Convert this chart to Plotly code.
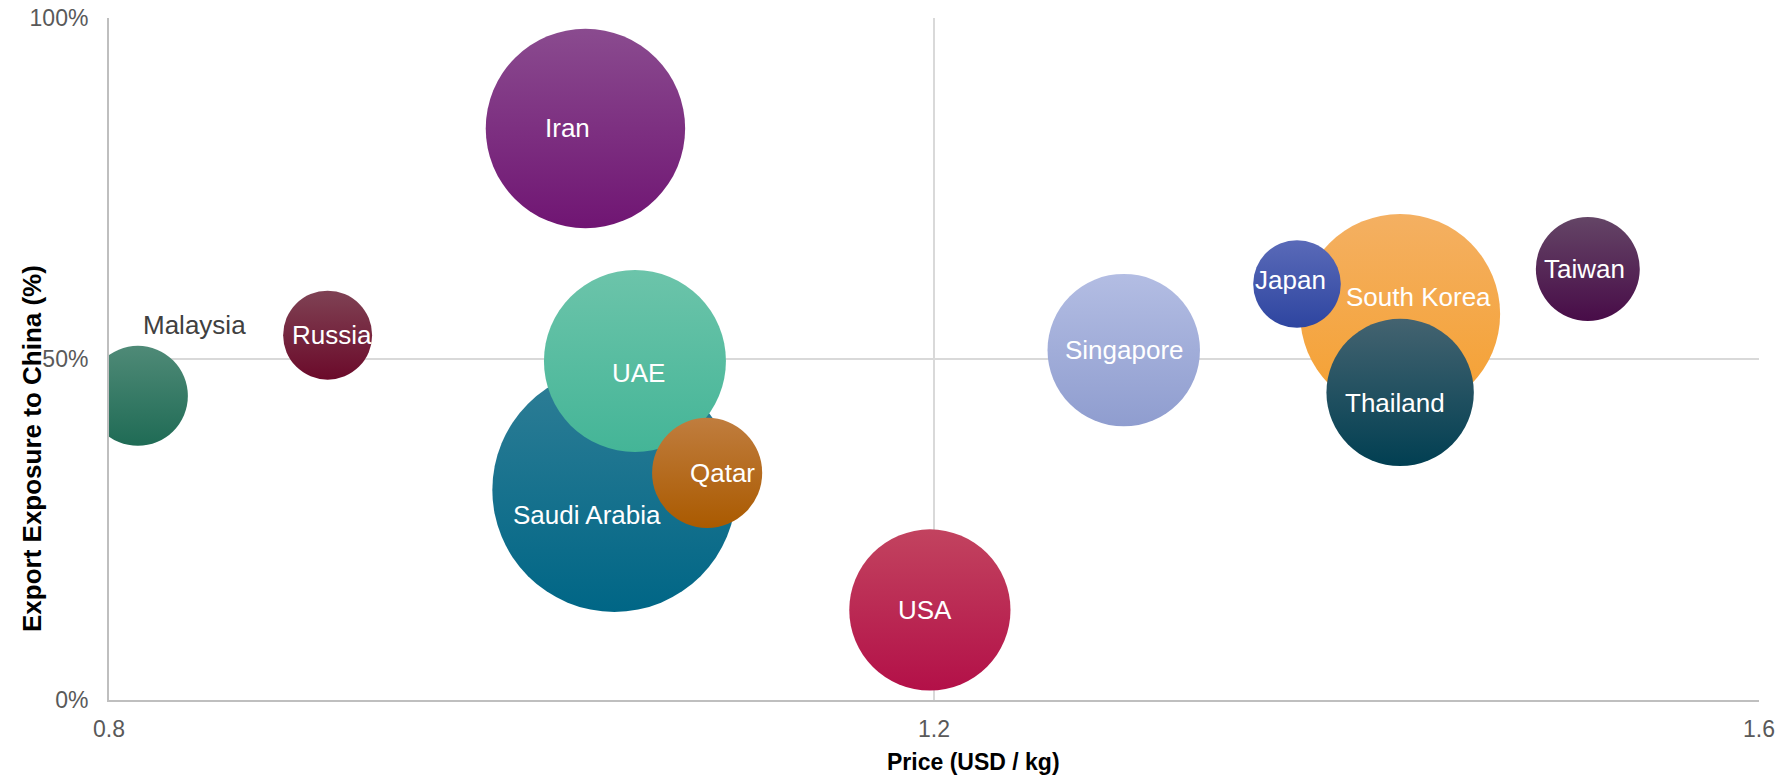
import plotly.graph_objects as go

# Bubble data, in drawing order (later points sit on top)
countries = ["Malaysia", "Russia", "Iran", "Saudi Arabia", "UAE", "Qatar", "USA",
             "Singapore", "South Korea", "Japan", "Thailand", "Taiwan"]
price_usd_kg = [0.814, 0.906, 1.031, 1.045, 1.055, 1.090, 1.198,
                1.292, 1.426, 1.376, 1.426, 1.517]
china_share = [0.446, 0.535, 0.838, 0.308, 0.497, 0.333, 0.132,
               0.513, 0.566, 0.610, 0.451, 0.632]
export_volume = [25.0, 19.8, 99.4, 148.8, 82.8, 30.3, 65.0,
                 58.1, 100.0, 19.2, 54.3, 27.0]

# top / bottom colours of each bubble's vertical gradient
top_colors = ["#4f8a77", "#7f4254", "#8a4b8f", "#2f7e96", "#6cc4aa", "#c07d3e", "#c2435f",
              "#b3bde3", "#f4b062", "#5a6ab8", "#446370", "#644566"]
bottom_colors = ["#1f6b55", "#6b0a2a", "#701573", "#006686", "#44b597", "#aa5a00", "#b31048",
                 "#8f9dcf", "#f5a030", "#2e45a0", "#013f52", "#480c48"]

# label nudges in px (xshift, yshift), label colour
label_style = {
    "Malaysia": (57, 71, "#404040"),
    "Russia": (4, 0, "white"),
    "Iran": (-18, 0, "white"),
    "Saudi Arabia": (-27, -25, "white"),
    "UAE": (4, -12, "white"),
    "Qatar": (15, 0, "white"),
    "USA": (-5, 0, "white"),
    "Singapore": (1, 0, "white"),
    "South Korea": (18, 17, "white"),
    "Japan": (-7, 4, "white"),
    "Thailand": (-5, -11, "white"),
    "Taiwan": (-3, 0, "white"),
}

FONT = "Arial, Liberation Sans, sans-serif"

fig = go.Figure()
fig.add_trace(go.Scatter(
    x=price_usd_kg, y=china_share, mode="markers",
    marker=dict(
        size=export_volume, sizemode="area", sizeref=0.005,
        color=top_colors, opacity=1,
        gradient=dict(type="vertical", color=bottom_colors),
        line=dict(width=0),
    ),
    hovertext=countries, hoverinfo="text",
    cliponaxis=True, showlegend=False,
))

for name, px, py in zip(countries, price_usd_kg, china_share):
    dx, dy, col = label_style[name]
    fig.add_annotation(
        x=px, y=py, text=name, showarrow=False,
        xshift=dx, yshift=dy, xanchor="center", yanchor="middle",
        font=dict(family=FONT, size=26, color=col),
    )

# axis titles
fig.add_annotation(
    xref="paper", yref="paper", x=0, y=0.368, xshift=-77,
    xanchor="center", yanchor="middle",
    text="<b>Export Exposure to China (%)</b>", textangle=-90, showarrow=False,
    font=dict(family=FONT, size=26, color="#000000"),
)
fig.add_annotation(
    xref="paper", yref="paper", x=0.524, y=0, yshift=-62,
    xanchor="center", yanchor="middle",
    text="<b>Price (USD / kg)</b>", showarrow=False,
    font=dict(family=FONT, size=23, color="#000000"),
)

fig.update_xaxes(
    range=[0.8, 1.6], dtick=0.4, tick0=0.8, tickformat=".1f",
    showgrid=True, gridcolor="#d9d9d9", gridwidth=1.5,
    showline=True, linecolor="#bfbfbf", linewidth=2,
    zeroline=False, ticks="", ticklabelstandoff=7, automargin=False,
    tickfont=dict(family=FONT, size=23, color="#595959"),
)
fig.update_yaxes(
    range=[0, 1], dtick=0.5, tickformat=".0%",
    showgrid=True, gridcolor="#d9d9d9", gridwidth=1.5,
    showline=True, linecolor="#bfbfbf", linewidth=2,
    zeroline=False, ticks="", ticklabelstandoff=14, automargin=False,
    tickfont=dict(family=FONT, size=23, color="#595959"),
)
fig.update_layout(
    width=1783, height=777,
    margin=dict(l=109, r=24, t=18, b=77),
    plot_bgcolor="white", paper_bgcolor="white",
    font=dict(family=FONT),
)

fig.write_html(
    "out.html",
    config={"displayModeBar": False},
    post_script="document.body.style.margin = '0px';",
)
